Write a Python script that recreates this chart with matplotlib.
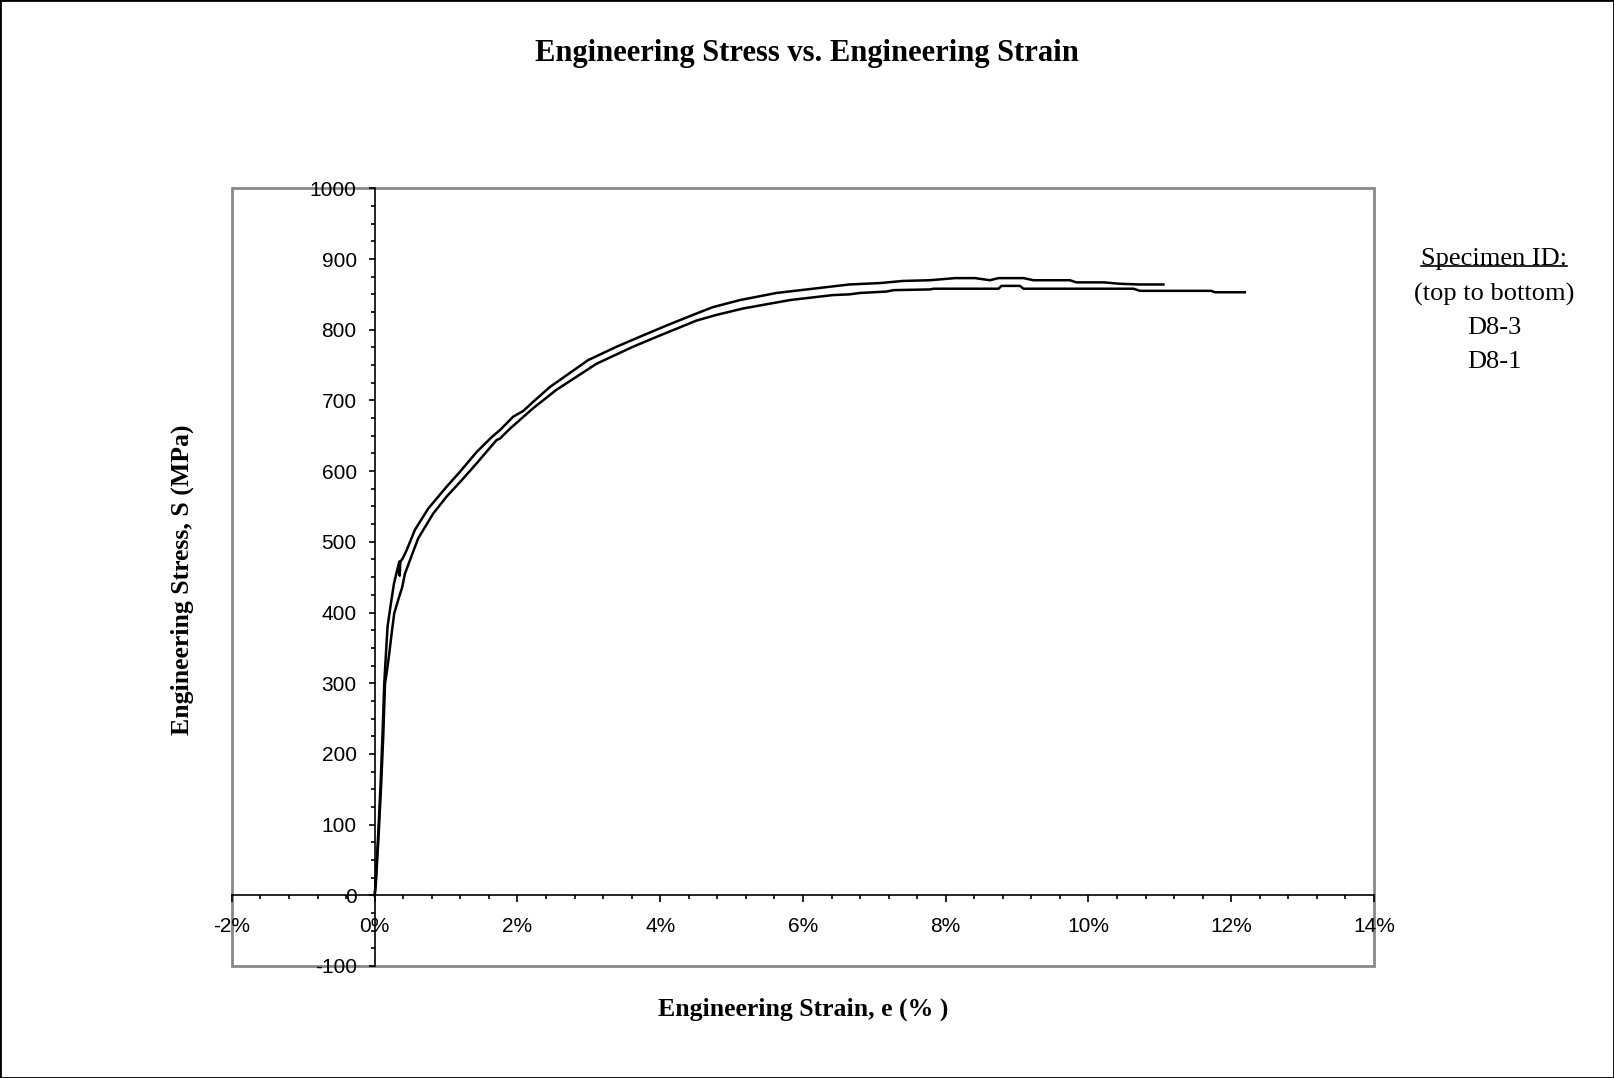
import matplotlib
matplotlib.use('Agg')
import matplotlib.pyplot as plt
from matplotlib.patches import Rectangle
from matplotlib.lines import Line2D
from matplotlib.ticker import MultipleLocator, FuncFormatter

# strain (%) and stress (MPa)
strain_d83 = [0.0, 0.013, 0.05, 0.083, 0.11, 0.134, 0.158, 0.18, 0.223, 0.27, 0.32, 0.345,
              0.35, 0.36, 0.39, 0.447, 0.564, 0.75, 1.008, 1.194, 1.428, 1.638, 1.755, 1.94,
              2.08, 2.22, 2.455, 2.99, 3.39, 3.76, 4.09, 4.51, 4.74, 5.12, 5.63, 6.14, 6.65,
              7.08, 7.40, 7.78, 8.13, 8.41, 8.62, 8.74, 9.09, 9.23, 9.74, 9.83, 10.21, 10.44,
              10.72, 11.05]
stress_d83 = [0, 17, 88, 158, 229, 300, 342, 380, 410, 441, 462, 472,
              452, 472, 476, 488, 517, 547, 578, 599, 627, 648, 658, 677,
              685, 698, 719, 757, 776, 792, 806, 823, 832, 842, 852, 858, 864,
              866, 869, 870, 873, 873, 870, 873, 873, 870, 870, 867, 867, 865,
              864, 864]

strain_d81 = [0.0, 0.015, 0.055, 0.09, 0.12, 0.145, 0.167, 0.204, 0.237, 0.274, 0.33, 0.386,
              0.424, 0.494, 0.61, 0.82, 1.008, 1.218, 1.428, 1.708, 1.755, 1.895, 2.22,
              2.546, 3.11, 3.62, 4.0, 4.51, 4.79, 5.16, 5.82, 6.42, 6.65, 6.80, 7.17, 7.27,
              7.78, 7.83, 8.74, 8.78, 9.04, 9.09, 10.63, 10.72, 11.72, 11.77, 12.19]
stress_d81 = [0, 15, 85, 155, 225, 300, 314, 342, 370, 399, 418, 436,
              455, 474, 505, 540, 564, 587, 611, 644, 646, 660, 689,
              715, 752, 776, 792, 813, 821, 830, 842, 849, 850, 852, 854, 856,
              857, 858, 858, 862, 862, 858, 858, 855, 855, 853, 853]

x_ticks = [-2, 0, 2, 4, 6, 8, 10, 12, 14]
y_ticks = [-100, 0, 100, 200, 300, 400, 500, 600, 700, 800, 900, 1000]
legend_lines = ['(top to bottom)', 'D8-3', 'D8-1']

serif = 'Liberation Serif'
plt.rcParams['font.family'] = 'Liberation Sans'
plt.rcParams['font.size'] = 15
plt.rcParams['axes.unicode_minus'] = False

fig = plt.figure(figsize=(16.14, 10.78), dpi=100)
ax = fig.add_axes([0.1437, 0.1039, 0.8513 - 0.1437, 0.8253 - 0.1039])

ax.plot(strain_d83, stress_d83, color='black', lw=1.8)
ax.plot(strain_d81, stress_d81, color='black', lw=1.8)

ax.set_xlim(-2, 14)
ax.set_ylim(-100, 1000)

# axis lines cross at the origin, like the spreadsheet chart
for s in ['top', 'right']:
    ax.spines[s].set_visible(False)
ax.spines['left'].set_position(('data', 0))
ax.spines['bottom'].set_position(('data', 0))
ax.spines['left'].set_linewidth(1.2)
ax.spines['bottom'].set_linewidth(1.2)
ax.add_patch(Rectangle((0, 0), 1, 1, transform=ax.transAxes, fill=False,
                       edgecolor='#888888', lw=2, clip_on=False, zorder=0))

ax.set_xticks(x_ticks)
ax.set_yticks(y_ticks)
ax.xaxis.set_minor_locator(MultipleLocator(0.4))
ax.yaxis.set_minor_locator(MultipleLocator(25))
ax.xaxis.set_major_formatter(FuncFormatter(lambda v, p: f'{v:.0f}%'))
ax.tick_params(axis='x', which='major', direction='out', length=5, width=1.2, pad=10.5,
               labelsize=15)
ax.tick_params(axis='x', which='minor', direction='out', length=3, width=1.2)
ax.tick_params(axis='y', which='major', direction='out', length=4, width=1.2, pad=9,
               labelsize=15)
ax.tick_params(axis='y', which='minor', direction='out', length=3, width=1.2)

fig.text(0.5, 1 - 53.5 / 1078, 'Engineering Stress vs. Engineering Strain',
         ha='center', va='center', fontsize=22, fontweight='bold', family=serif)
fig.text(0.4975, 1 - 1009 / 1078, 'Engineering Strain, e (% )',
         ha='center', va='center', fontsize=18.5, fontweight='bold', family=serif)
fig.text(182 / 1614, 1 - 580 / 1078, 'Engineering Stress, S (MPa)', rotation=90,
         ha='center', va='center', fontsize=18.5, fontweight='bold', family=serif)

# specimen note on the right
lx = 1494 / 1614
head = fig.text(lx, 1 - 259 / 1078, 'Specimen ID:', ha='center', va='center',
                fontsize=19, family=serif)
for i, t in enumerate(legend_lines):
    fig.text(lx, 1 - (294 + 34 * i) / 1078, t, ha='center', va='center',
             fontsize=19, family=serif)

fig.canvas.draw()
bb = head.get_window_extent().transformed(fig.transFigure.inverted())
uy = bb.y0 + 0.004
fig.add_artist(Line2D([bb.x0, bb.x1], [uy, uy], transform=fig.transFigure,
                      color='black', lw=1.2))

fig.add_artist(Rectangle((0, 0), 1, 1, transform=fig.transFigure, fill=False,
                         edgecolor='black', lw=2))

fig.savefig('out.png', dpi=100)
